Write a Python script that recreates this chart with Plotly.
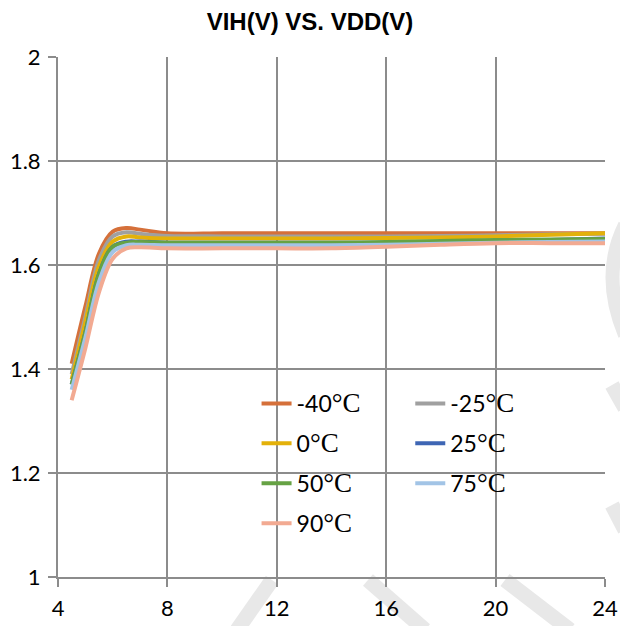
import plotly.graph_objects as go

vdd = [4.5, 5, 5.5, 6, 6.5, 7, 8, 10, 12, 14, 16, 18, 20, 22, 24]

vih_m40 = [1.41, 1.52, 1.622, 1.664, 1.671, 1.668, 1.661, 1.661, 1.661, 1.661, 1.661, 1.661, 1.661, 1.661, 1.661]
vih_m25 = [1.39, 1.50, 1.610, 1.655, 1.663, 1.660, 1.656, 1.655, 1.655, 1.655, 1.655, 1.656, 1.657, 1.659, 1.660]
vih_0 = [1.38, 1.49, 1.598, 1.645, 1.655, 1.653, 1.651, 1.651, 1.651, 1.651, 1.652, 1.653, 1.655, 1.658, 1.661]
vih_25 = [1.37, 1.47, 1.583, 1.635, 1.645, 1.645, 1.643, 1.643, 1.643, 1.643, 1.643, 1.644, 1.646, 1.648, 1.651]
vih_50 = [1.37, 1.47, 1.583, 1.635, 1.643, 1.644, 1.643, 1.643, 1.643, 1.643, 1.644, 1.646, 1.648, 1.649, 1.650]
vih_75 = [1.36, 1.46, 1.568, 1.625, 1.638, 1.639, 1.638, 1.638, 1.638, 1.638, 1.639, 1.641, 1.643, 1.644, 1.645]
vih_90 = [1.34, 1.44, 1.548, 1.612, 1.632, 1.634, 1.632, 1.632, 1.632, 1.632, 1.635, 1.639, 1.642, 1.642, 1.642]

labels = ["-40", "-25", "0", "25", "50", "75", "90"]
series = [vih_m40, vih_m25, vih_0, vih_25, vih_50, vih_75, vih_90]
colors = ["#D5703A", "#A0A0A0", "#E3B10A", "#3E66B4", "#66A244", "#A2C4E6", "#F2AA92"]
legend_ids = ["legend", "legend2", "legend", "legend2", "legend", "legend2", "legend"]

x_ticks = [4, 8, 12, 16, 20, 24]
x_ticktext = ["4", "8", "12", "16", "20", "24"]
y_ticks = [1, 1.2, 1.4, 1.6, 1.8, 2]
y_ticktext = ["1", "1.2", "1.4", "1.6", "1.8", "2"]

fig = go.Figure()
for i, (lab, ys, col, lg) in enumerate(zip(labels, series, colors, legend_ids)):
    fig.add_trace(go.Scatter(
        x=vdd, y=ys, mode="lines",
        line=dict(color=col, width=4, shape="spline", smoothing=1),
        name=lab + "<span style=\"font-family:'Liberation Serif', 'DejaVu Serif', serif; font-size:27px\">°C</span>",
        legend=lg, legendgroup="g" + str(i),
    ))

# faint background watermark strokes, only where the page shows outside the plot area
W, H = 620, 626
L, R, T, B = 58, 15, 57, 49
pw, ph = W - L - R, H - T - B


def px(xp):
    return (xp - L) / pw


def py(yp):
    return (H - B - yp) / ph


wm_strokes = [
    [(272, 580), (237, 630)],
    [(368, 580), (425, 630)],
    [(505, 580), (570, 630)],
    [(612, 385), (625, 408)],
    [(612, 505), (625, 530)],
]
for pts in wm_strokes:
    (x0, y0), (x1, y1) = pts
    fig.add_shape(type="line", xref="paper", yref="paper", x0=px(x0), y0=py(y0), x1=px(x1), y1=py(y1),
                  line=dict(color="#E8E8E8", width=15), layer="below")
fig.add_shape(type="path", xref="paper", yref="paper", layer="below",
              path="M %f,%f Q %f,%f %f,%f" % (px(625), py(225), px(600), py(275), px(625), py(335)),
              line=dict(color="#E8E8E8", width=14))

tick_font = dict(family="Lato, Open Sans, sans-serif", size=22, color="#000000")
legend_font = dict(family="Lato, Open Sans, sans-serif", size=23, color="#000000")
grid_col = "#8C8C8C"

fig.update_layout(
    width=W, height=H,
    margin=dict(l=L, r=R, t=T, b=B, autoexpand=False),
    paper_bgcolor="white", plot_bgcolor="rgba(0,0,0,0)",
    title=dict(text="<b>VIH(V) VS. VDD(V)</b>", x=0.5, xanchor="center", y=0.965, yanchor="middle",
               font=dict(family="Liberation Sans Narrow, Liberation Sans, Arial, sans-serif", size=24, color="#000000")),
    xaxis=dict(range=[4, 24], tickvals=x_ticks, ticktext=x_ticktext, showgrid=True, gridcolor=grid_col, gridwidth=2,
               zeroline=False, showline=True, linecolor=grid_col, linewidth=2, automargin=False,
               ticks="outside", ticklen=8, tickwidth=2, tickcolor=grid_col, tickfont=tick_font,
               ticklabelstandoff=3),
    yaxis=dict(range=[1, 2], tickvals=y_ticks, ticktext=y_ticktext, showgrid=True, gridcolor=grid_col, gridwidth=2,
               zeroline=False, showline=True, linecolor=grid_col, linewidth=2, automargin=False,
               ticks="outside", ticklen=8, tickwidth=2, tickcolor=grid_col, tickfont=tick_font,
               ticklabelstandoff=3),
    legend=dict(x=0.363, y=0.375, xanchor="left", yanchor="top", bgcolor="rgba(0,0,0,0)",
                font=legend_font, tracegroupgap=7),
    legend2=dict(x=0.644, y=0.375, xanchor="left", yanchor="top", bgcolor="rgba(0,0,0,0)",
                 font=legend_font, tracegroupgap=7),
)

fig.write_html("out.html")
